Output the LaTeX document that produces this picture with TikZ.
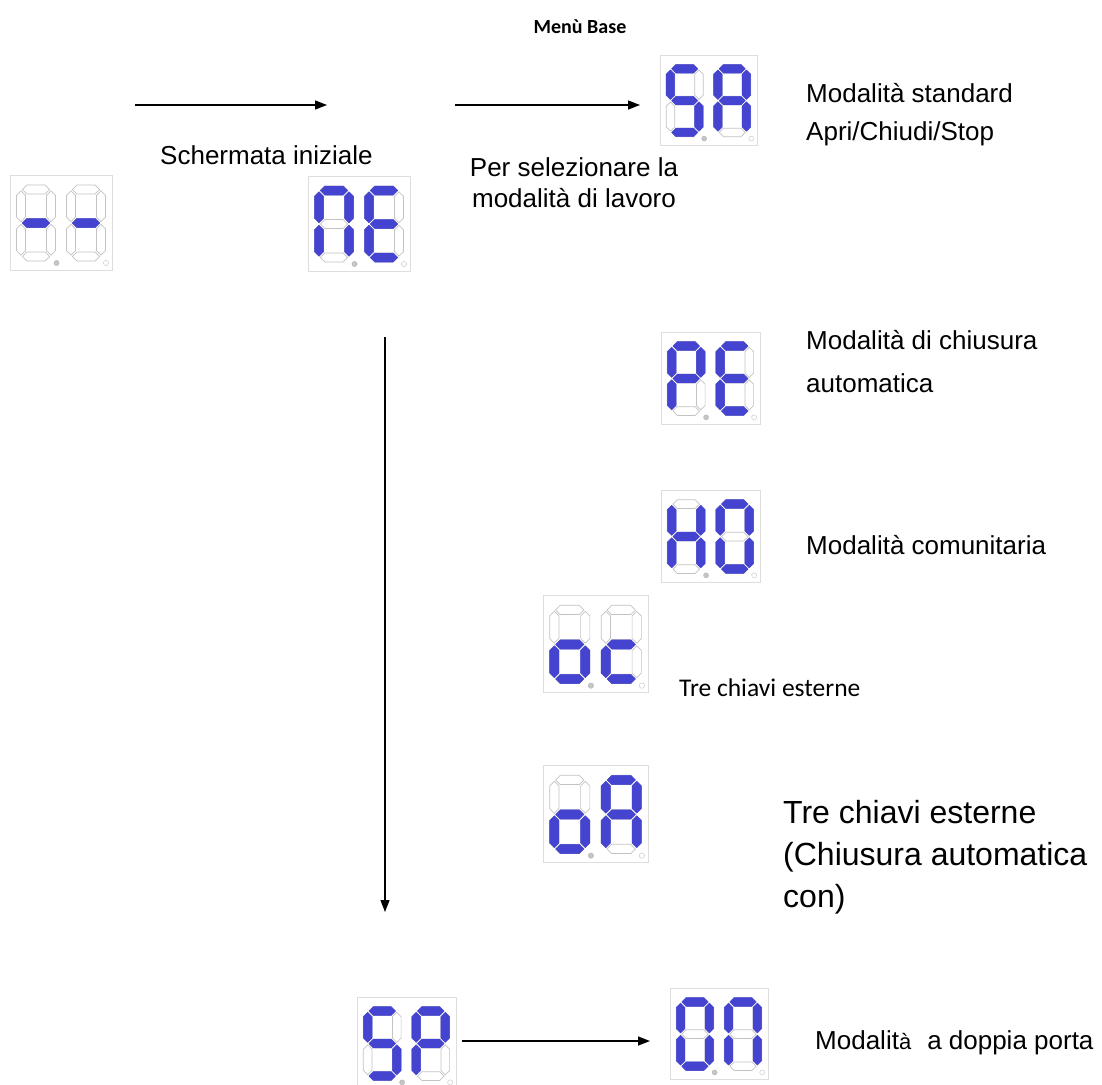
\documentclass[tikz,border=0pt]{standalone}
\usepackage{fontspec}
\setmainfont{Liberation Sans}
\newfontfamily\calfont{Carlito}
\usetikzlibrary{arrows.meta}
\definecolor{segblue}{RGB}{68,68,208}
\definecolor{segoff}{RGB}{195,195,195}
\definecolor{boxline}{RGB}{222,222,222}
\tikzset{
  onseg/.style={fill=segblue, draw=segblue, line width=0.5pt, line join=round},
  offseg/.style={draw=segoff, line width=0.7pt, fill=white},
  dispbox/.style={draw=boxline, line width=0.8pt, inner sep=0pt, fill=white},
  arr/.style={-{Triangle[length=12pt,width=9pt]}, line width=1.3pt},
  lbl/.style={anchor=west, inner sep=0pt, align=left},
}
\newcommand\HSeg[4]{\path[#4] (#1,#3) -- ({#1+4.5},{#3-4.5}) -- ({#2-4.5},{#3-4.5}) -- (#2,#3) -- ({#2-4.5},{#3+4.5}) -- ({#1+4.5},{#3+4.5}) -- cycle;}
\newcommand\VSeg[4]{\path[#4] (#1,#2) -- ({#1+4.5},{#2+4.5}) -- ({#1+4.5},{#3-4.5}) -- (#1,#3) -- ({#1-4.5},{#3-4.5}) -- ({#1-4.5},{#2+4.5}) -- cycle;}
\newcommand\Sva[1]{\HSeg{1.3}{28.7}{0}{#1}}
\newcommand\Svb[1]{\VSeg{30}{1.3}{32.2}{#1}}
\newcommand\Svc[1]{\VSeg{30}{34.8}{65.7}{#1}}
\newcommand\Svd[1]{\HSeg{1.3}{28.7}{67}{#1}}
\newcommand\Sve[1]{\VSeg{0}{34.8}{65.7}{#1}}
\newcommand\Svf[1]{\VSeg{0}{1.3}{32.2}{#1}}
\newcommand\Svg[1]{\HSeg{1.3}{28.7}{33.5}{#1}}
\newcommand\SvDigit[3]{%
  \begin{scope}[shift={(#1,#2)}]
    \foreach \s in {a,b,c,d,e,f,g}{\csname Sv\s\endcsname{offseg}}
    \foreach \s in {#3}{\csname Sv\s\endcsname{onseg}}
  \end{scope}}
\newcommand\SvDisp[6]{%
  \begin{scope}[shift={(#2,#3)}, scale=#4]
    \node[dispbox, minimum width={#4*102pt}, minimum height={#4*95pt}] (#1) at (51,47.5) {};
    \SvDigit{11}{14.5}{#5}
    \SvDigit{61}{14.5}{#6}
    \path[fill=gray!45, draw=gray!60, line width=0.4pt] (46.5,88) circle (2.6);
    \path[fill=white, draw=gray!40, line width=0.5pt] (96,88) circle (2.6);
  \end{scope}}
\begin{document}
\begin{tikzpicture}[x=1pt, y=-1pt]
\useasboundingbox[fill=white] (0,0) rectangle (1102,1084);

% displays
\SvDisp{dA}{10}{175}{1}{g}{g}
\SvDisp{dB}{308}{176}{1}{a,b,c,e,f}{a,f,g,e,d}
\SvDisp{dC}{660}{55}{0.95}{a,f,g,c,d}{a,b,c,e,f,g}
\SvDisp{dD}{661}{332}{0.97}{a,b,f,g,e}{a,f,g,e,d}
\SvDisp{dE}{661}{490}{0.97}{f,b,g,e,c}{a,b,c,d,e,f}
\SvDisp{dF}{543}{595}{1.03}{g,c,d,e}{g,e,d}
\SvDisp{dG}{543}{765}{1.03}{g,c,d,e}{a,b,c,e,f,g}
\SvDisp{dH}{357}{997}{0.97}{a,f,g,c,d}{a,b,f,g,e}
\SvDisp{dI}{670}{988}{0.96}{a,b,c,d,e,f}{a,b,c,e,f}

% texts
\node[inner sep=0pt, font=\calfont\bfseries\fontsize{20}{24}\selectfont] (title) at (580,27) {Menù Base};
\node[lbl, font=\fontsize{26}{30}\selectfont] (t1) at (160,155) {Schermata iniziale};
\node[inner sep=0pt, align=center, font=\fontsize{26}{31}\selectfont] (t2) at (574,183) {Per selezionare la\\modalità di lavoro};
\node[lbl, font=\fontsize{26}{38}\selectfont] (t3) at (806,115) {Modalità standard\\Apri/Chiudi/Stop};
\node[lbl, font=\fontsize{26}{43}\selectfont] (t4) at (806,362) {Modalità di chiusura\\automatica};
\node[lbl, font=\fontsize{26}{30}\selectfont] (t5) at (806,545) {Modalità comunitaria};
\node[lbl, font=\calfont\fontsize{25.5}{28}\selectfont] (t6) at (679,688) {Tre chiavi esterne};
\node[lbl, font=\fontsize{32}{42}\selectfont] (t7) at (783,857) {Tre chiavi esterne\\(Chiusura automatica\\con)};
\node[lbl, font=\fontsize{26}{30}\selectfont] (t8) at (815,1043) {Modalit{\fontsize{22}{22}\selectfont à}\hspace{16pt}a doppia porta};

% connectors
\coordinate (p1) at (135,105); \coordinate (p2) at (327,105);
\coordinate (p3) at (455,105); \coordinate (p4) at (640,105);
\coordinate (p5) at (385,337); \coordinate (p6) at (385,912);
\coordinate (p7) at (462,1041); \coordinate (p8) at (650,1041);
\draw[arr] (p1) -- (p2);
\draw[arr] (p3) -- (p4);
\draw[arr] (p5) -- (p6);
\draw[arr] (p7) -- (p8);
\end{tikzpicture}
\end{document}
